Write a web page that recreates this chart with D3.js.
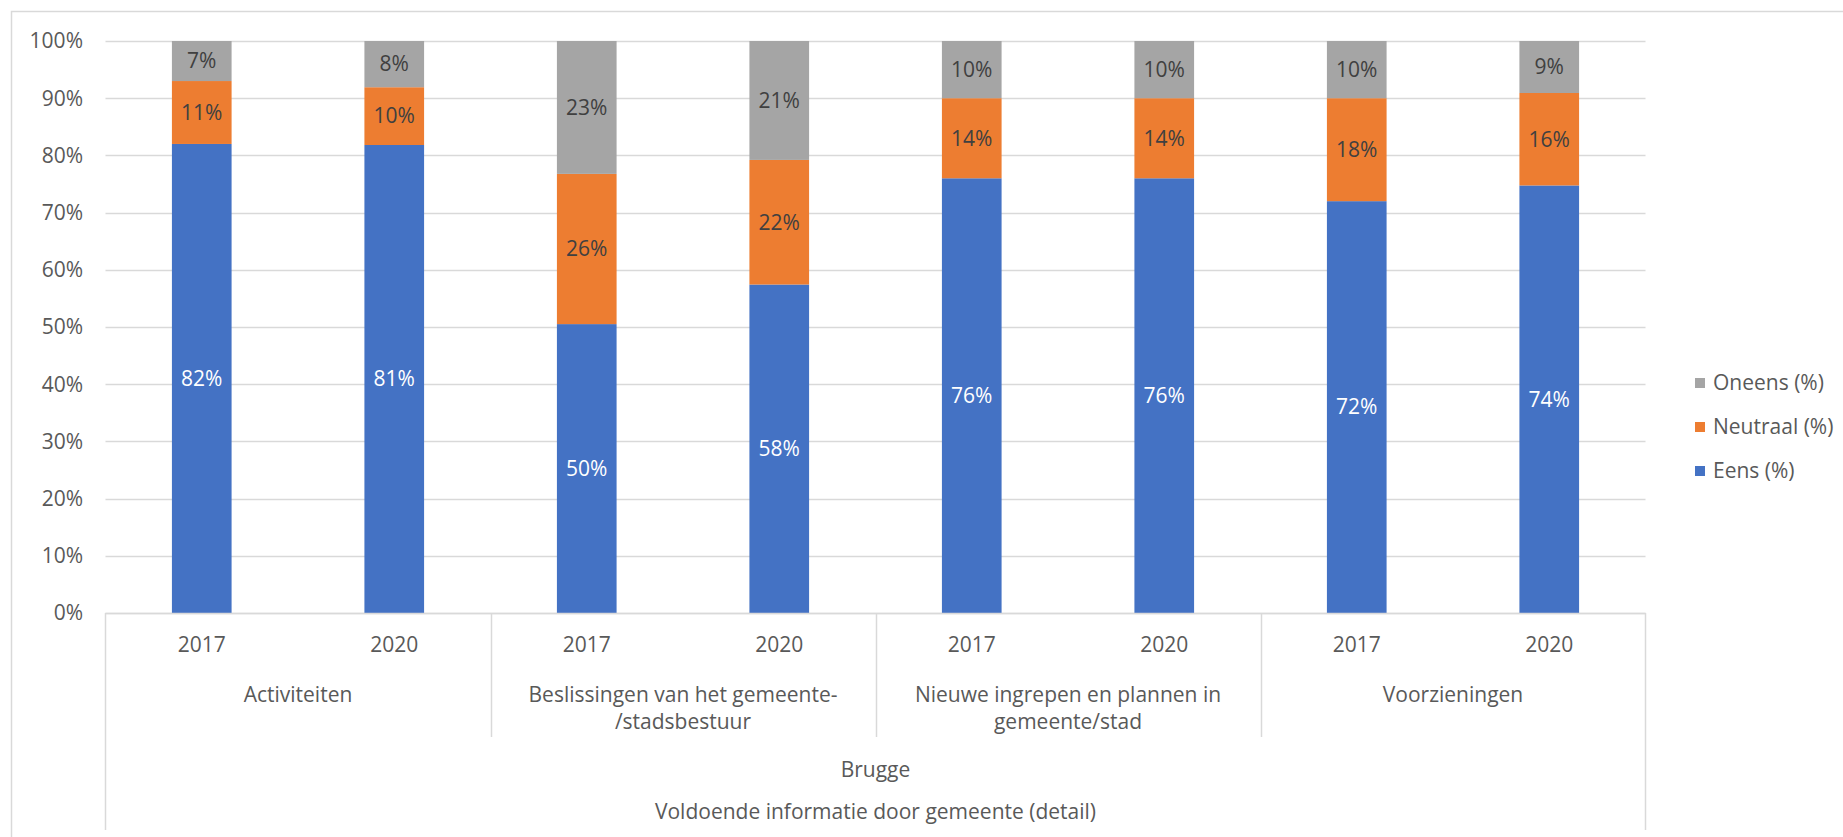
<!DOCTYPE html>
<html>
<head>
<meta charset="utf-8">
<script src="https://cdn.jsdelivr.net/npm/d3@7"></script>
<style>
  body { margin: 0; background: #fff; }
  svg text { font-family: "Open Sans", sans-serif; }
</style>
</head>
<body>
<div id="chart"></div>
<script>
var width = 1843, height = 837;

// data
var groups = [["Activiteiten"], ["Beslissingen van het gemeente-", "/stadsbestuur"],
              ["Nieuwe ingrepen en plannen in", "gemeente/stad"], ["Voorzieningen"]];
var years = ["2017", "2020"];
var eens     = [82, 81, 50, 58, 76, 76, 72, 74];
var neutraal = [11, 10, 26, 22, 14, 14, 18, 16];
var oneens   = [7, 8, 23, 21, 10, 10, 10, 9];
var seriesNames = ["Eens (%)", "Neutraal (%)", "Oneens (%)"];
var cityLabel = "Brugge";
var axisTitle = "Voldoende informatie door gemeente (detail)";
var yTicks = [0, 0.1, 0.2, 0.3, 0.4, 0.5, 0.6, 0.7, 0.8, 0.9, 1];

var colors = ["#4472C4", "#ED7D31", "#A5A5A5"];
var gridColor = "#d9d9d9", textColor = "#595959";
var fontSize = 21;

var rows = eens.map(function(d, i) {
  return { idx: i, group: Math.floor(i / 2), year: years[i % 2],
           "Eens (%)": d, "Neutraal (%)": neutraal[i], "Oneens (%)": oneens[i] };
});

// plot area (note: "top" is reserved on window)
var plotLeft = 105.5, plotRight = 1645.5, plotTop = 41, plotBottom = 613;

var svg = d3.select("#chart").append("svg").attr("width", width).attr("height", height);

// chart border (only top and left visible in the crop)
svg.append("path")
    .attr("d", "M11.5," + height + "V11.5H" + width)
    .attr("fill", "none").attr("stroke", gridColor).attr("stroke-width", 1.5);

var x = d3.scaleBand()
    .domain(rows.map(function(d) { return d.idx; }))
    .range([plotLeft, plotRight])
    .paddingInner(0.69)
    .paddingOuter(0.345);

var xGroup = d3.scaleBand().domain(d3.range(groups.length)).range([plotLeft, plotRight]);

var y = d3.scaleLinear().domain([0, 1]).range([plotBottom, plotTop]);

// gridlines
svg.append("g").selectAll("line")
  .data(yTicks)
  .enter().append("line")
    .attr("x1", plotLeft).attr("x2", plotRight)
    .attr("y1", function(d) { return Math.round(y(d)) + 0.5; })
    .attr("y2", function(d) { return Math.round(y(d)) + 0.5; })
    .attr("stroke", gridColor).attr("stroke-width", 1.5);

// y labels
svg.append("g").selectAll("text")
  .data(yTicks)
  .enter().append("text")
    .attr("x", 83)
    .attr("y", function(d) { return y(d); })
    .attr("dy", "0.35em")
    .attr("text-anchor", "end")
    .attr("font-size", fontSize)
    .attr("fill", textColor)
    .text(d3.format(".0%"));

var stack = d3.stack().keys(seriesNames).offset(d3.stackOffsetExpand);
var series = stack(rows);

var layer = svg.append("g").selectAll("g")
  .data(series)
  .enter().append("g")
    .attr("fill", function(d, i) { return colors[i]; });

layer.selectAll("rect")
  .data(function(d) { return d; })
  .enter().append("rect")
    .attr("x", function(d) { return x(d.data.idx); })
    .attr("width", x.bandwidth())
    .attr("y", function(d) { return y(d[1]); })
    .attr("height", function(d) { return y(d[0]) - y(d[1]); });

// data labels
series.forEach(function(s, si) {
  svg.append("g").selectAll("text")
    .data(s)
    .enter().append("text")
      .attr("x", function(d) { return x(d.data.idx) + x.bandwidth() / 2; })
      .attr("y", function(d) { return y((d[0] + d[1]) / 2); })
      .attr("dy", "0.35em")
      .attr("text-anchor", "middle")
      .attr("font-size", fontSize)
      .attr("fill", si === 0 ? "#ffffff" : "#404040")
      .text(function(d) { return d.data[s.key] + "%"; });
});

// multi-level category axis
var axis = svg.append("g").attr("stroke", gridColor).attr("stroke-width", 1.5);
axis.append("line").attr("x1", plotLeft).attr("x2", plotRight)
    .attr("y1", plotBottom + 0.5).attr("y2", plotBottom + 0.5);
d3.range(1, groups.length).forEach(function(g) {
  axis.append("line")
      .attr("x1", Math.round(xGroup(g)) + 0.5).attr("x2", Math.round(xGroup(g)) + 0.5)
      .attr("y1", plotBottom).attr("y2", 737);
});
[plotLeft, plotRight].forEach(function(px) {
  axis.append("line")
      .attr("x1", px).attr("x2", px)
      .attr("y1", plotBottom).attr("y2", 830);
});

svg.append("g").selectAll("text")
  .data(rows)
  .enter().append("text")
    .attr("x", function(d) { return x(d.idx) + x.bandwidth() / 2; })
    .attr("y", 645)
    .attr("dy", "0.35em")
    .attr("text-anchor", "middle")
    .attr("font-size", fontSize)
    .attr("fill", textColor)
    .text(function(d) { return d.year; });

var groupText = svg.append("g").selectAll("text")
  .data(groups)
  .enter().append("text")
    .attr("x", function(d, i) { return xGroup(i) + xGroup.bandwidth() / 2; })
    .attr("y", 695)
    .attr("text-anchor", "middle")
    .attr("font-size", fontSize)
    .attr("fill", textColor);

groupText.selectAll("tspan")
  .data(function(d) { return d; })
  .enter().append("tspan")
    .attr("x", function() { return this.parentNode.getAttribute("x"); })
    .attr("dy", function(d, i) { return i === 0 ? "0.35em" : "27px"; })
    .text(function(d) { return d; });

svg.append("text")
    .attr("x", (plotLeft + plotRight) / 2).attr("y", 770).attr("dy", "0.35em")
    .attr("text-anchor", "middle").attr("font-size", fontSize).attr("fill", textColor)
    .text(cityLabel);

svg.append("text")
    .attr("x", (plotLeft + plotRight) / 2).attr("y", 812).attr("dy", "0.35em")
    .attr("text-anchor", "middle").attr("font-size", fontSize).attr("fill", textColor)
    .text(axisTitle);

// legend (reversed like Excel)
var legend = svg.append("g").selectAll("g")
  .data(seriesNames.slice().reverse())
  .enter().append("g")
    .attr("transform", function(d, i) { return "translate(1695," + (383 + i * 44) + ")"; });

legend.append("rect")
    .attr("x", 0).attr("y", -5).attr("width", 10).attr("height", 10)
    .attr("fill", function(d) { return colors[seriesNames.indexOf(d)]; });

legend.append("text")
    .attr("x", 18).attr("dy", "0.35em")
    .attr("font-size", fontSize).attr("fill", textColor)
    .text(function(d) { return d; });
</script>
</body>
</html>
